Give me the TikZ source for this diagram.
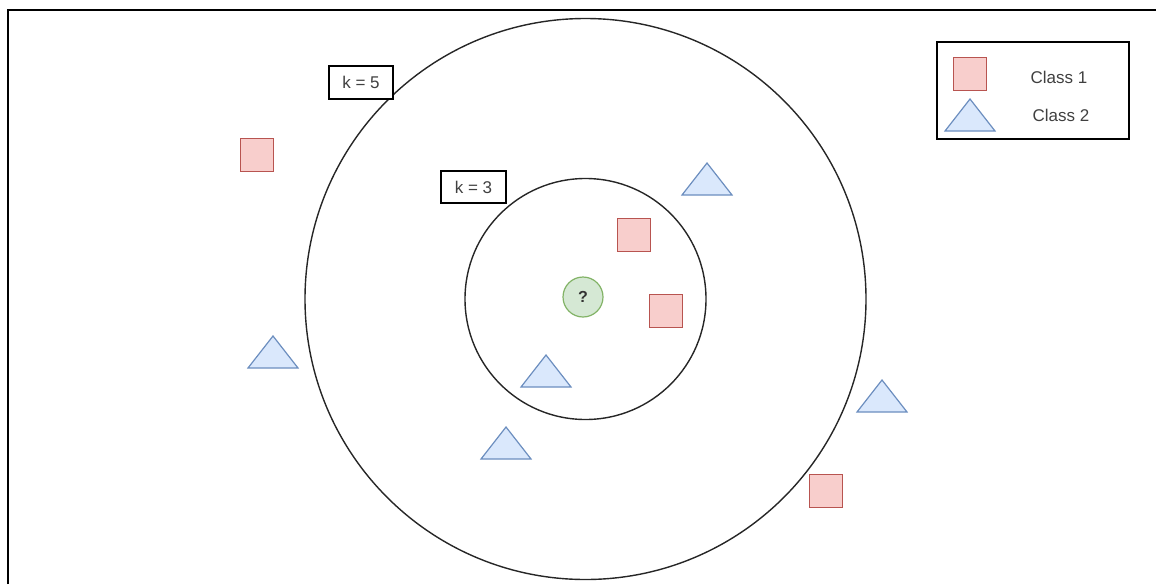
\documentclass[tikz,border=0pt]{standalone}
\usepackage{fontspec}
\setmainfont{Liberation Sans}
\usetikzlibrary{positioning}

\tikzset{
  lbl/.style={font=\fontsize{17}{19}\selectfont, text=black!75, inner sep=0pt},
  kbox/.style={draw, line width=1.3pt, minimum width=64pt, minimum height=33pt, lbl},
  clsA/.style={fill=redF, draw=redD, line width=1.2pt},
  clsB/.style={fill=blueF, draw=blueD, line width=1.2pt},
}
% squares of class 1 and triangles of class 2, given by their centres
\newcommand{\sqmark}[2]{\filldraw[clsA] (#1-16.5,#2-16.5) rectangle ++(33,33);}
\newcommand{\trimark}[2]{\filldraw[clsB] (#1-25,#2+16) -- (#1,#2-16) -- (#1+25,#2+16) -- cycle;}

\begin{document}
\begin{tikzpicture}[x=1pt,y=-1pt]
\definecolor{redF}{HTML}{F8CECC}
\definecolor{redD}{HTML}{B85450}
\definecolor{blueF}{HTML}{DAE8FC}
\definecolor{blueD}{HTML}{6C8EBF}
\definecolor{greenF}{HTML}{D5E8D4}
\definecolor{greenD}{HTML}{82B366}
\useasboundingbox (0,0) rectangle (1156,584);
% frame
\draw[line width=1.8pt] (8,584) -- (8,10) -- (1156,10);
% neighbourhoods
\draw[line width=1.4pt, black!85] (585.5,299) circle (280.5pt);
\draw[line width=1.4pt, black!85] (585.5,299) circle (120.5pt);
% class 1
\sqmark{257}{155}
\sqmark{634}{235}
\sqmark{666}{311}
\sqmark{826}{491}
% class 2
\trimark{707}{179}
\trimark{273}{352}
\trimark{546}{371}
\trimark{506}{443}
\trimark{882}{396}
% query point
\node[circle, fill=greenF, draw=greenD, line width=1.2pt, minimum size=40pt, inner sep=0pt,
  font=\fontsize{16}{18}\selectfont\bfseries, text=black!80] (query) at (583,297) {?};
% labels
\node[kbox, fill=white] (kfive) at (361,82.5) {k = 5};
\node[kbox, minimum width=65pt, minimum height=32pt] (kthree) at (473.5,187) {k = 3};
% legend
\draw[line width=1.3pt] (937,42) rectangle (1129,139);
\sqmark{970}{74}
\trimark{970}{115}
\node[lbl] (classone) at (1059,77) {Class 1};
\node[lbl] (classtwo) at (1061,115) {Class 2};
\end{tikzpicture}
\end{document}
